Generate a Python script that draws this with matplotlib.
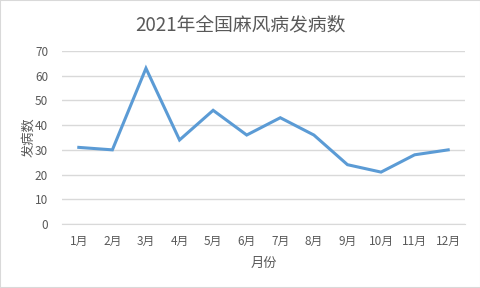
import matplotlib
matplotlib.use("Agg")
import matplotlib.pyplot as plt

plt.rcParams['font.family'] = ['Noto Sans CJK SC', 'DejaVu Sans']

# 数据
months = ['1月', '2月', '3月', '4月', '5月', '6月', '7月', '8月', '9月', '10月', '11月', '12月']
cases = [31, 30, 63, 34, 46, 36, 43, 36, 24, 21, 28, 30]
yticks = [0, 10, 20, 30, 40, 50, 60, 70]

text_color = '#595959'
grid_color = '#d9d9d9'
line_color = '#5b9bd5'

fig = plt.figure(figsize=(4.81, 2.88), dpi=100)
ax = fig.add_axes([62 / 481, 64 / 288, 403 / 481, 173 / 288])

x = list(range(len(months)))
ax.plot(x, cases, color=line_color, linewidth=2.2, solid_joinstyle='miter', zorder=3)

ax.set_xlim(-0.5, len(months) - 0.5)
ax.set_ylim(0, 70)
ax.set_yticks(yticks)
ax.set_xticks(x)
ax.set_xticklabels(months)

ax.grid(axis='y', color=grid_color, linewidth=1)
ax.tick_params(axis='both', length=0, colors=text_color, labelsize=8.5)
ax.tick_params(axis='y', pad=10)
ax.tick_params(axis='x', pad=8)
for s in ax.spines.values():
    s.set_visible(False)
ax.spines['bottom'].set_visible(True)
ax.spines['bottom'].set_color(grid_color)

ax.set_xlabel('月份', color=text_color, fontsize=9.5, labelpad=6)
ax.set_ylabel('发病数', color=text_color, fontsize=9.5, labelpad=0)
fig.suptitle('2021年全国麻风病发病数', color=text_color, fontsize=13.5, y=0.95)

# 外边框
fig.patches.append(plt.Rectangle((0, 0), 1, 1, transform=fig.transFigure,
                                 fill=False, edgecolor='#d9d9d9', linewidth=1.5))

fig.savefig('out.png', dpi=100)
